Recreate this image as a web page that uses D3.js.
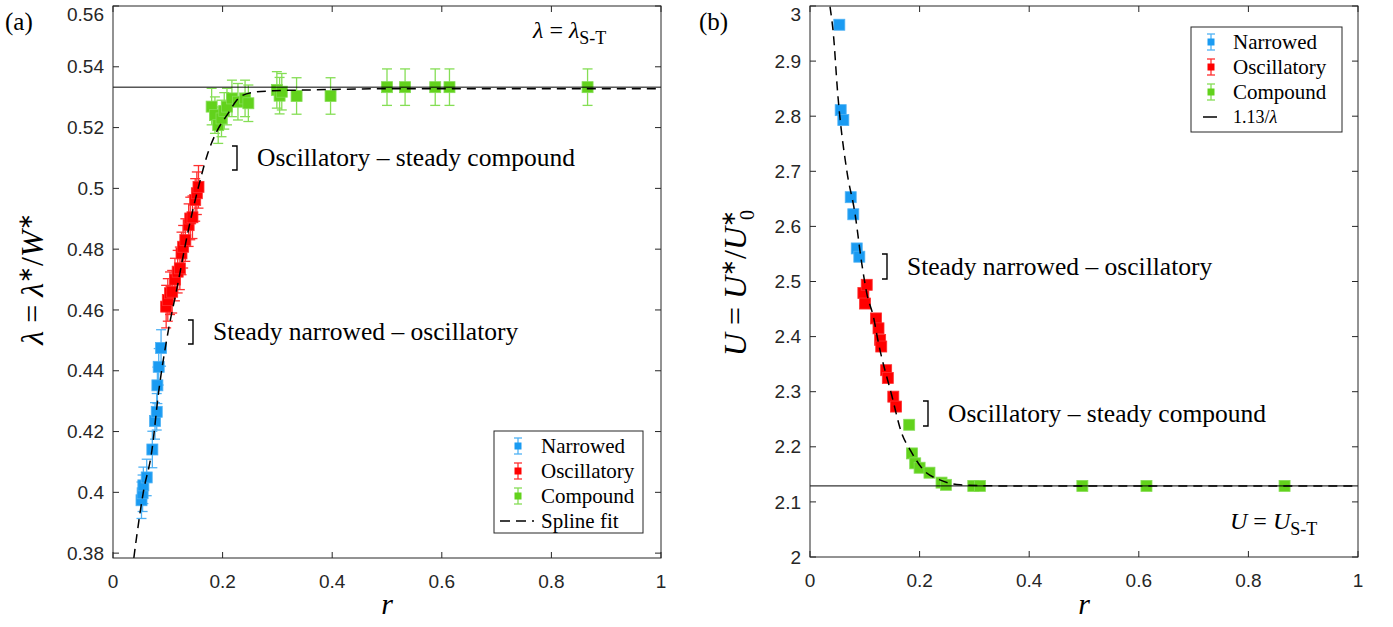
<!DOCTYPE html>
<html>
<head>
<meta charset="utf-8">
<script src="https://cdn.jsdelivr.net/npm/d3@7"></script>
<style>
    body { margin: 0; background: #fff; }
    .tick-label { font-family: "Liberation Sans", Arial, sans-serif; font-size: 19px; fill: #262626; }
    .serif { font-family: "Liberation Serif", "Times New Roman", serif; fill: #000; }
</style>
</head>
<body>
<div id="chart"></div>
<script>
// ---- panel (a): wavelength vs r ----
const rNarrowedA = [0.052, 0.054, 0.0554, 0.0615, 0.0718, 0.0767, 0.0798, 0.081, 0.0834, 0.0877];
const lamNarrowedA = [0.3974, 0.3997, 0.4023, 0.4049, 0.4141, 0.4235, 0.4265, 0.4352, 0.4413, 0.4475];
const rOscA = [0.097, 0.100, 0.104, 0.108, 0.113, 0.118, 0.122, 0.125, 0.128, 0.132, 0.138, 0.141, 0.145, 0.150, 0.153, 0.156];
const lamOscA = [0.4611, 0.4633, 0.4655, 0.4660, 0.4700, 0.4726, 0.4737, 0.4786, 0.4808, 0.4830, 0.4879, 0.4901, 0.4905, 0.4962, 0.4984, 0.5005];
const rCompA = [0.180, 0.186, 0.192, 0.198, 0.203, 0.208, 0.217, 0.228, 0.241, 0.247, 0.299, 0.304, 0.308, 0.335, 0.397, 0.500, 0.533, 0.588, 0.614, 0.866];
const lamCompA = [0.5269, 0.5241, 0.5208, 0.5230, 0.5255, 0.5269, 0.5296, 0.5285, 0.5296, 0.5280, 0.5324, 0.5305, 0.5318, 0.5304, 0.5304, 0.5333, 0.5333, 0.5333, 0.5333, 0.5333];
const errA = {Narrowed: 0.006, Oscillatory: 0.007, Compound: 0.006};
const splineR = [0.038, 0.043, 0.055, 0.071, 0.083, 0.101, 0.116, 0.1375, 0.156, 0.172, 0.189, 0.208, 0.232, 0.256, 0.293, 0.365, 0.5, 1.0];
const splineLam = [0.3784, 0.3852, 0.3997, 0.4138, 0.4326, 0.4533, 0.4665, 0.4863, 0.5005, 0.511, 0.5186, 0.5241, 0.5301, 0.5316, 0.5321, 0.5324, 0.5328, 0.5328];
const lambdaST = 0.5333;

// ---- panel (b): speed vs r ----
const rNarrowedB = [0.0535, 0.056, 0.0608, 0.0743, 0.079, 0.0853, 0.090];
const uNarrowedB = [2.966, 2.811, 2.793, 2.653, 2.622, 2.560, 2.545];
const rOscB = [0.0974, 0.1005, 0.1035, 0.1205, 0.125, 0.128, 0.130, 0.139, 0.142, 0.152, 0.157];
const uOscB = [2.479, 2.460, 2.494, 2.433, 2.415, 2.394, 2.382, 2.339, 2.325, 2.291, 2.273];
const rCompB = [0.181, 0.186, 0.192, 0.200, 0.218, 0.240, 0.248, 0.298, 0.310, 0.497, 0.614, 0.866];
const uCompB = [2.240, 2.188, 2.170, 2.162, 2.153, 2.135, 2.131, 2.129, 2.129, 2.129, 2.129, 2.129];
const fitR = [0.0365, 0.0426, 0.0505, 0.067, 0.082, 0.0944, 0.1035, 0.1157, 0.125, 0.149, 0.1675, 0.183, 0.207, 0.237, 0.274, 0.35, 1.0];
const fitU = [2.999, 2.95, 2.842, 2.702, 2.624, 2.533, 2.479, 2.436, 2.388, 2.294, 2.224, 2.194, 2.158, 2.14, 2.131, 2.129, 2.129];
const uST = 2.129;

const xTicks = [0, 0.2, 0.4, 0.6, 0.8, 1];
const yTicksA = [0.38, 0.4, 0.42, 0.44, 0.46, 0.48, 0.5, 0.52, 0.54, 0.56];
const yTicksB = [2, 2.1, 2.2, 2.3, 2.4, 2.5, 2.6, 2.7, 2.8, 2.9, 3];
const categories = ['Narrowed', 'Oscillatory', 'Compound'];

const colors = {Narrowed: '#1a9bf2', Oscillatory: '#ff0000', Compound: '#62d21c'};
const barColors = {Narrowed: '#4fb2f5', Oscillatory: '#ff3030', Compound: '#85de55'};

const width = 1393, height = 627;
const svg = d3.select('#chart').append('svg')
    .attr('width', width)
    .attr('height', height);

const fmt = d => String(+d.toFixed(2));

function drawPanel(o) {
    const x = d3.scaleLinear().domain([0, 1]).range(o.xRange);
    const y = d3.scaleLinear().domain(o.yDomain).range(o.yRange);
    const [left, right] = o.xRange;
    const top = o.yRange[1], bottom = o.yRange[0];
    const g = svg.append('g');

    g.append('clipPath').attr('id', o.id + '-clip')
        .append('rect')
        .attr('x', left).attr('y', top)
        .attr('width', right - left).attr('height', bottom - top);

    const plot = g.append('g').attr('clip-path', `url(#${o.id}-clip)`);

    // points with error bars
    o.series.forEach(s => {
        const pts = s.r.map((r, i) => ({r, v: s.v[i]}));
        if (s.err) {
            const eb = plot.append('g')
                .attr('stroke', barColors[s.name])
                .attr('stroke-width', 1.3);
            pts.forEach(p => {
                const px = x(p.r), y1 = y(p.v - s.err), y2 = y(p.v + s.err);
                eb.append('line').attr('x1', px).attr('x2', px).attr('y1', y1).attr('y2', y2);
                eb.append('line').attr('x1', px - 5).attr('x2', px + 5).attr('y1', y1).attr('y2', y1);
                eb.append('line').attr('x1', px - 5).attr('x2', px + 5).attr('y1', y2).attr('y2', y2);
            });
        }
        plot.append('g')
            .selectAll('rect')
            .data(pts)
            .join('rect')
            .attr('x', d => x(d.r) - 5.5)
            .attr('y', d => y(d.v) - 5.5)
            .attr('width', 11)
            .attr('height', 11)
            .attr('fill', colors[s.name])
            .attr('stroke', barColors[s.name])
            .attr('stroke-width', 0.8);
    });

    // reference line and fit curve go on top of the markers
    plot.append('line')
        .attr('x1', left).attr('x2', right)
        .attr('y1', y(o.hline)).attr('y2', y(o.hline))
        .attr('stroke', '#000').attr('stroke-width', 1);

    const line = d3.line()
        .x((d, i) => x(o.curveR[i]))
        .y(d => y(d))
        .curve(d3.curveMonotoneX);
    plot.append('path')
        .datum(o.curveV)
        .attr('d', line)
        .attr('fill', 'none')
        .attr('stroke', '#000')
        .attr('stroke-width', 1.5)
        .attr('stroke-dasharray', '9,6');

    // frame and inward ticks
    g.append('rect')
        .attr('x', left).attr('y', top)
        .attr('width', right - left).attr('height', bottom - top)
        .attr('fill', 'none').attr('stroke', '#262626').attr('stroke-width', 1);

    const ticks = g.append('g').attr('stroke', '#262626').attr('stroke-width', 1);
    xTicks.forEach(t => {
        const px = x(t);
        ticks.append('line').attr('x1', px).attr('x2', px).attr('y1', bottom).attr('y2', bottom - 6);
        ticks.append('line').attr('x1', px).attr('x2', px).attr('y1', top).attr('y2', top + 6);
        g.append('text').attr('class', 'tick-label')
            .attr('x', px).attr('y', bottom + 30)
            .attr('text-anchor', 'middle')
            .text(fmt(t));
    });
    o.yTicks.forEach(t => {
        const py = y(t);
        ticks.append('line').attr('x1', left).attr('x2', left + 6).attr('y1', py).attr('y2', py);
        ticks.append('line').attr('x1', right).attr('x2', right - 6).attr('y1', py).attr('y2', py);
        // the top label is pushed down so it stays inside the figure
        g.append('text').attr('class', 'tick-label')
            .attr('x', left - 9).attr('y', Math.max(py, 14))
            .attr('dy', '0.35em')
            .attr('text-anchor', 'end')
            .text(fmt(t));
    });

    // x label
    g.append('text').attr('class', 'serif')
        .attr('x', (left + right) / 2).attr('y', 614)
        .attr('text-anchor', 'middle')
        .attr('font-size', 30)
        .attr('font-style', 'italic')
        .text('r');

    // brackets with transition labels
    o.notes.forEach(n => {
        g.append('path')
            .attr('d', `M${n.x - 5},${n.y0} H${n.x} V${n.y1} H${n.x - 5}`)
            .attr('fill', 'none').attr('stroke', '#000').attr('stroke-width', 1.4);
        g.append('text').attr('class', 'serif')
            .attr('x', n.x + 20).attr('y', n.y1 - 4)
            .attr('font-size', 25.5)
            .text(n.text);
    });

    // legend
    const lg = g.append('g');
    lg.append('rect')
        .attr('x', o.legend.x).attr('y', o.legend.y)
        .attr('width', o.legend.w).attr('height', o.legend.h)
        .attr('fill', '#fff').attr('stroke', '#262626').attr('stroke-width', 1);
    const rowY = i => o.legend.y + 15 + i * 25;
    const mx = o.legend.x + o.legend.mx;
    categories.forEach((c, i) => {
        const cy = rowY(i);
        lg.append('line').attr('x1', mx).attr('x2', mx).attr('y1', cy - 8).attr('y2', cy + 8)
            .attr('stroke', barColors[c]).attr('stroke-width', 1.3);
        [cy - 8, cy + 8].forEach(yy => lg.append('line')
            .attr('x1', mx - 4).attr('x2', mx + 4).attr('y1', yy).attr('y2', yy)
            .attr('stroke', barColors[c]).attr('stroke-width', 1.3));
        lg.append('rect').attr('x', mx - 3.5).attr('y', cy - 3.5).attr('width', 7).attr('height', 7)
            .attr('fill', colors[c]);
        lg.append('text').attr('class', 'serif')
            .attr('x', o.legend.x + o.legend.tx).attr('y', cy).attr('dy', '0.35em')
            .attr('font-size', 21).text(c);
    });
    const cy = rowY(3);
    lg.append('line')
        .attr('x1', o.legend.x + o.legend.l0).attr('x2', o.legend.x + o.legend.l1)
        .attr('y1', cy).attr('y2', cy)
        .attr('stroke', '#000').attr('stroke-width', 1.5)
        .attr('stroke-dasharray', o.legend.dash);
    const lt = lg.append('text').attr('class', 'serif')
        .attr('x', o.legend.x + o.legend.tx).attr('y', cy).attr('dy', '0.35em')
        .attr('font-size', o.legend.lastSize);
    o.legend.last(lt);

    return {g, x, y};
}

// ---- panel (a) ----
const pa = drawPanel({
    id: 'pa',
    xRange: [113, 661],
    yDomain: [0.3784, 0.56],
    yRange: [558, 6],
    yTicks: yTicksA,
    series: [
        {name: 'Narrowed', r: rNarrowedA, v: lamNarrowedA, err: errA.Narrowed},
        {name: 'Oscillatory', r: rOscA, v: lamOscA, err: errA.Oscillatory},
        {name: 'Compound', r: rCompA, v: lamCompA, err: errA.Compound}
    ],
    hline: lambdaST,
    curveR: splineR,
    curveV: splineLam,
    notes: [
        {x: 237, y0: 146, y1: 170, text: 'Oscillatory – steady compound'},
        {x: 193, y0: 320, y1: 344, text: 'Steady narrowed – oscillatory'}
    ],
    legend: {x: 494, y: 431, w: 149, h: 102, mx: 24, tx: 47, l0: 6, l1: 40, dash: '10,6', lastSize: 21,
        last: t => t.text('Spline fit')}
});

// ---- panel (b) ----
const pb = drawPanel({
    id: 'pb',
    xRange: [810, 1358],
    yDomain: [2, 3],
    yRange: [557, 6],
    yTicks: yTicksB,
    series: [
        {name: 'Narrowed', r: rNarrowedB, v: uNarrowedB},
        {name: 'Oscillatory', r: rOscB, v: uOscB},
        {name: 'Compound', r: rCompB, v: uCompB}
    ],
    hline: uST,
    curveR: fitR,
    curveV: fitU,
    notes: [
        {x: 887, y0: 254, y1: 279, text: 'Steady narrowed – oscillatory'},
        {x: 928, y0: 401, y1: 426, text: 'Oscillatory – steady compound'}
    ],
    legend: {x: 1191, y: 27, w: 151, h: 105, mx: 20, tx: 42, l0: 12, l1: 26, dash: null, lastSize: 18,
        last: t => {
            t.append('tspan').text('1.13/');
            t.append('tspan').attr('font-style', 'italic').text('λ');
        }}
});

// panel letters
svg.append('text').attr('class', 'serif').attr('x', 5).attr('y', 30).attr('font-size', 25).text('(a)');
svg.append('text').attr('class', 'serif').attr('x', 699).attr('y', 30).attr('font-size', 25).text('(b)');

// math-style labels built from tspans
function mathLabel(parent, parts, size) {
    const t = parent.append('text').attr('class', 'serif').attr('font-size', size);
    parts.forEach(p => {
        const ts = t.append('tspan').text(p.t);
        if (p.i) ts.attr('font-style', 'italic');
        if (p.dx) ts.attr('dx', p.dx);
        if (p.dy) ts.attr('dy', p.dy);
        if (p.s) ts.attr('font-size', p.s);
    });
    return t;
}

mathLabel(svg, [
    {t: 'λ', i: true}, {t: ' = '}, {t: 'λ', i: true},
    {t: '∗', dy: -11, s: 20}, {t: '/', dy: 11}, {t: 'W', i: true}, {t: '∗', dy: -11, s: 20}
], 32).attr('text-anchor', 'middle')
    .attr('transform', 'translate(43,279) rotate(-90)');

mathLabel(svg, [
    {t: 'U', i: true}, {t: ' = '}, {t: 'U', i: true},
    {t: '∗', dy: -11, s: 20}, {t: '/', dy: 11}, {t: 'U', i: true},
    {t: '∗', dy: -11, s: 20}, {t: '0', dx: -10, dy: 19, s: 20}
], 32).attr('text-anchor', 'middle')
    .attr('transform', 'translate(746,283) rotate(-90)');

// reference line labels
mathLabel(svg, [
    {t: 'λ', i: true}, {t: ' = '}, {t: 'λ', i: true}, {t: 'S-T', dy: 6, s: 18}
], 24).attr('x', 533).attr('y', 38);

mathLabel(svg, [
    {t: 'U', i: true}, {t: ' = '}, {t: 'U', i: true}, {t: 'S-T', dy: 6, s: 18}
], 24).attr('x', 1230).attr('y', 529);
</script>
</body>
</html>
